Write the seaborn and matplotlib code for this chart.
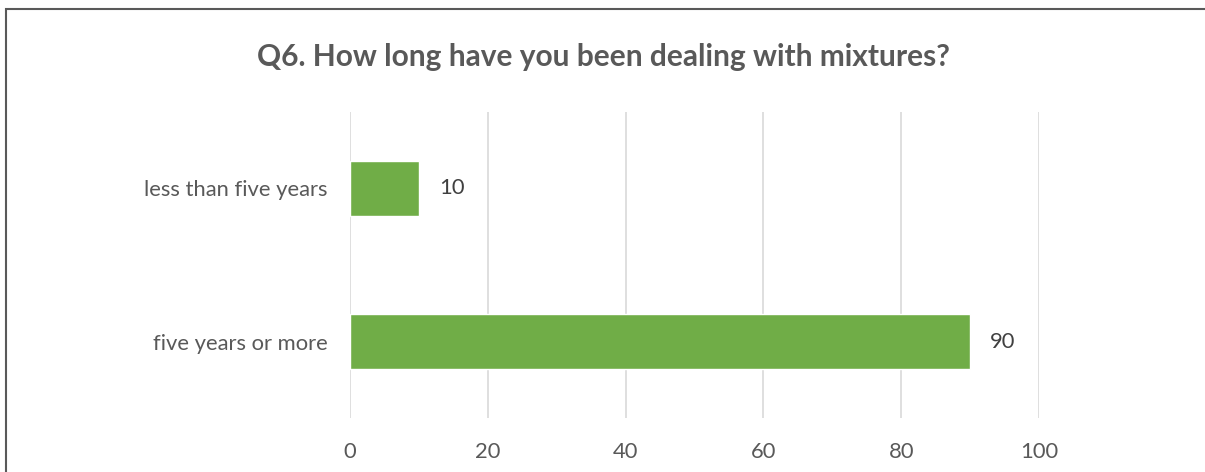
import matplotlib
matplotlib.use("Agg")
import matplotlib.pyplot as plt
import seaborn as sns
import pandas as pd
from matplotlib.patches import Rectangle

categories = ["less than five years", "five years or more"]
values = [10, 90]
xticks = [0, 20, 40, 60, 80, 100]
title = "Q6. How long have you been dealing with mixtures?"

sns.set_theme(style="white")
plt.rcParams["font.family"] = ["Lato", "DejaVu Sans"]

W, H = 1205, 472
fig = plt.figure(figsize=(W / 100, H / 100), dpi=100)
ax = fig.add_axes([350 / W, 1 - 418 / H, (1039 - 350) / W, (418 - 112) / H])

df = pd.DataFrame({"category": categories, "value": values})
sns.barplot(data=df, x="value", y="category", orient="h", color="#70AD47",
            saturation=1, width=0.355, ax=ax)

ax.set_xlim(0, 100)
ax.set_ylim(1.5, -0.5)
ax.set_xticks(xticks)
ax.set_xticklabels([str(t) for t in xticks])
ax.grid(axis="x", color="#D9D9D9", linewidth=1.2)
ax.set_axisbelow(True)
for s in ax.spines.values():
    s.set_visible(False)
ax.tick_params(axis="x", length=0, pad=17.5, labelsize=15.8, labelcolor="#595959")
ax.tick_params(axis="y", length=0, pad=16, labelsize=15.8, labelcolor="#595959")
ax.set_xlabel("")
ax.set_ylabel("")

for i, v in enumerate(values):
    ax.text(v + 2.9, i, str(v), va="center", ha="left", fontsize=15.8, color="#404040")

fig.text(0.5 * (258 + 948) / W, 1 - 57 / H, title, ha="center", va="center",
         fontsize=21.5, fontweight="bold", color="#595959")

# chart frame
fig.patches.append(Rectangle((6 / W, -0.1), 1.2, 1 - 9 / H + 0.1, transform=fig.transFigure,
                             fill=False, edgecolor="#595959", linewidth=1.5))

fig.savefig("out.png", dpi=100, facecolor="white")
